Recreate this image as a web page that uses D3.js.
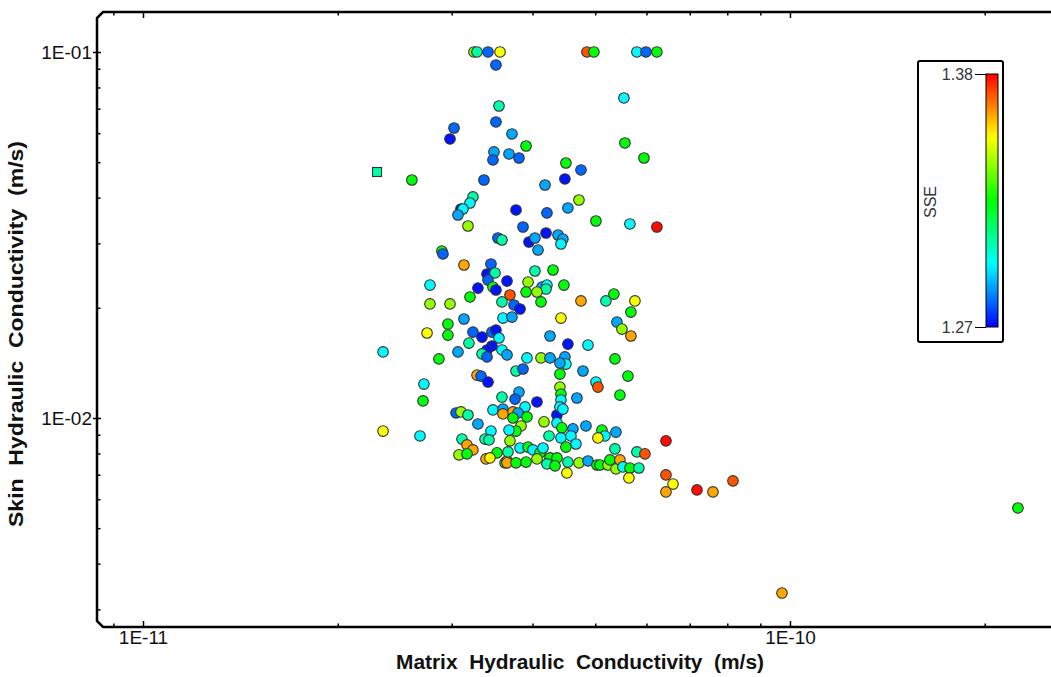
<!DOCTYPE html>
<html><head><meta charset="utf-8">
<script src="https://cdn.jsdelivr.net/npm/d3@7"></script>
<style>body{margin:0;background:#fff}svg{display:block}text{font-family:"Liberation Sans",Arial,sans-serif}</style>
</head><body><svg id="c" width="1051" height="677"></svg>
<script>
// Matrix hydraulic conductivity (m/s)
const matrixK = [
3.248e-11,3.283e-11,3.414e-11,3.563e-11,4.855e-11,4.977e-11,5.800e-11,5.990e-11,6.227e-11,3.512e-11,
3.550e-11,5.538e-11,3.512e-11,3.025e-11,2.982e-11,3.718e-11,3.909e-11,5.558e-11,5.947e-11,3.487e-11,
3.475e-11,3.679e-11,3.812e-11,4.505e-11,4.753e-11,4.489e-11,2.604e-11,3.365e-11,4.182e-11,4.719e-11,
3.236e-11,3.202e-11,3.101e-11,3.123e-11,3.068e-11,3.772e-11,4.211e-11,4.537e-11,3.179e-11,3.867e-11,
5.013e-11,5.657e-11,6.227e-11,4.197e-11,3.537e-11,3.588e-11,3.950e-11,4.035e-11,4.380e-11,4.457e-11,
4.426e-11,4.079e-11,2.897e-11,2.908e-11,3.134e-11,3.450e-11,3.402e-11,3.500e-11,3.414e-11,3.653e-11,
2.777e-11,3.294e-11,3.475e-11,3.512e-11,3.692e-11,2.777e-11,2.982e-11,3.202e-11,3.588e-11,4.035e-11,
4.303e-11,3.937e-11,4.137e-11,4.211e-11,4.197e-11,3.909e-11,4.064e-11,4.473e-11,4.123e-11,3.745e-11,
3.826e-11,4.753e-11,5.194e-11,5.344e-11,5.759e-11,5.677e-11,3.134e-11,3.601e-11,3.718e-11,4.426e-11,
5.402e-11,5.499e-11,5.677e-11,2.960e-11,2.960e-11,2.748e-11,3.236e-11,3.342e-11,3.462e-11,3.512e-11,
3.550e-11,4.257e-11,4.537e-11,4.873e-11,3.190e-11,3.462e-11,3.402e-11,3.068e-11,3.342e-11,3.402e-11,
3.588e-11,3.653e-11,2.350e-11,2.867e-11,3.922e-11,4.123e-11,4.257e-11,4.489e-11,4.505e-11,4.410e-11,
5.364e-11,3.772e-11,3.867e-11,4.410e-11,4.787e-11,5.618e-11,5.013e-11,5.049e-11,3.283e-11,3.330e-11,
3.414e-11,2.718e-11,2.709e-11,5.460e-11,4.685e-11,4.410e-11,4.426e-11,4.426e-11,3.812e-11,3.759e-11,
4.064e-11,3.588e-11,3.475e-11,3.601e-11,3.601e-11,3.732e-11,3.895e-11,3.799e-11,4.364e-11,4.410e-11,
4.457e-11,3.922e-11,3.732e-11,3.047e-11,3.101e-11,3.179e-11,3.294e-11,3.450e-11,2.350e-11,2.680e-11,
3.112e-11,3.378e-11,3.426e-11,3.168e-11,3.236e-11,3.079e-11,3.168e-11,3.525e-11,3.390e-11,3.438e-11,
3.627e-11,3.653e-11,3.840e-11,3.772e-11,3.679e-11,4.167e-11,4.364e-11,4.441e-11,4.619e-11,4.838e-11,
4.242e-11,5.121e-11,5.176e-11,5.049e-11,5.383e-11,4.426e-11,4.586e-11,4.669e-11,4.505e-11,6.432e-11,
3.692e-11,5.364e-11,5.800e-11,5.968e-11,3.826e-11,3.937e-11,4.006e-11,4.108e-11,4.152e-11,3.666e-11,
3.653e-11,3.772e-11,3.909e-11,4.064e-11,4.257e-11,4.364e-11,4.211e-11,4.334e-11,4.537e-11,4.719e-11,
4.873e-11,5.031e-11,5.085e-11,5.232e-11,5.269e-11,5.383e-11,5.460e-11,5.518e-11,5.657e-11,5.841e-11,
4.521e-11,5.637e-11,6.432e-11,6.595e-11,6.432e-11,7.182e-11,7.603e-11,8.164e-11,2.251e-10,9.72e-11
];
// Skin hydraulic conductivity (m/s)
const skinK = [
0.1,0.1,0.1,0.1,0.1,0.1,0.1,0.1,0.1,0.09215,
0.07119,0.07487,0.06438,0.06199,0.05785,0.05970,0.05535,0.05641,0.05133,0.05331,
0.05069,0.05264,0.05133,0.04974,0.04760,0.04498,0.04469,0.04469,0.04331,0.03941,
0.04017,0.03867,0.03724,0.03724,0.03586,0.03701,0.03632,0.03748,0.03346,0.03325,
0.03453,0.03389,0.03325,0.03202,0.03103,0.03064,0.03026,0.03103,0.03162,0.03083,
0.02988,0.02877,0.02859,0.02806,0.02618,0.02635,0.02474,0.02490,0.02382,0.02367,
0.02308,0.02265,0.02279,0.02237,0.02168,0.02049,0.02049,0.02141,0.02075,0.02521,
0.02537,0.02352,0.02279,0.02308,0.02251,0.02209,0.02209,0.02308,0.02075,0.02036,
0.01985,0.02088,0.02088,0.02181,0.02088,0.01947,0.01864,0.01875,0.01887,0.01875,
0.01829,0.01750,0.01675,0.01806,0.01685,0.01707,0.01717,0.01664,0.01717,0.01739,
0.01654,0.01675,0.01592,0.01582,0.01602,0.01573,0.01534,0.01515,0.01496,0.01468,
0.01534,0.01487,0.01515,0.01450,0.01459,0.01459,0.01459,0.01468,0.01404,0.01413,
0.01450,0.01344,0.01361,0.01318,0.01344,0.01302,0.01254,0.01215,0.01310,0.01302,
0.01254,0.01238,0.01113,0.01155,0.01134,0.01215,0.01162,0.01120,0.01177,0.01126,
0.01106,0.01141,0.01052,0.01058,0.01026,0.01039,0.01072,0.01032,0.01019,0.01072,
0.01058,0.01007,0.01000,0.01032,0.01039,0.01019,0.00963,0.00921,0.00921,0.00893,
0.00876,0.00876,0.00871,0.00844,0.00818,0.00793,0.00798,0.00803,0.00773,0.00778,
0.00754,0.00763,0.00951,0.00921,0.00927,0.00976,0.00970,0.00940,0.00934,0.00951,
0.00893,0.00927,0.00893,0.00882,0.00915,0.00882,0.00893,0.00849,0.00833,0.00866,
0.00866,0.00823,0.00808,0.00798,0.00828,0.00833,0.00818,0.00803,0.00828,0.00808,
0.00754,0.00754,0.00758,0.00773,0.00778,0.00778,0.00749,0.00740,0.00758,0.00754,
0.00763,0.00744,0.00744,0.00744,0.00768,0.00726,0.00768,0.00735,0.00730,0.00730,
0.00708,0.00686,0.00699,0.00660,0.00628,0.00636,0.00628,0.00673,0.005677,0.003325
];
// Sum of squared errors for each run
const sse = [
1.341,1.307,1.281,1.352,1.371,1.324,1.297,1.281,1.324,1.281,
1.307,1.297,1.281,1.281,1.272,1.288,1.324,1.324,1.324,1.288,
1.281,1.288,1.281,1.324,1.281,1.272,1.324,1.281,1.288,1.341,
1.307,1.297,1.272,1.297,1.288,1.272,1.281,1.288,1.341,1.281,
1.324,1.297,1.379,1.272,1.281,1.307,1.272,1.288,1.288,1.288,
1.297,1.288,1.324,1.281,1.362,1.281,1.272,1.307,1.281,1.272,
1.297,1.272,1.324,1.272,1.371,1.341,1.341,1.324,1.307,1.307,
1.324,1.341,1.288,1.297,1.307,1.324,1.341,1.324,1.324,1.281,
1.272,1.362,1.307,1.324,1.352,1.324,1.288,1.297,1.288,1.352,
1.288,1.341,1.362,1.324,1.324,1.352,1.281,1.272,1.281,1.272,
1.297,1.288,1.272,1.297,1.307,1.272,1.272,1.288,1.307,1.281,
1.297,1.288,1.297,1.324,1.297,1.341,1.288,1.288,1.297,1.288,
1.324,1.307,1.281,1.324,1.288,1.324,1.297,1.371,1.362,1.281,
1.272,1.297,1.324,1.324,1.288,1.341,1.324,1.297,1.288,1.281,
1.272,1.307,1.297,1.288,1.362,1.362,1.297,1.288,1.272,1.297,
1.297,1.324,1.324,1.281,1.341,1.307,1.288,1.297,1.352,1.297,
1.307,1.307,1.307,1.362,1.362,1.341,1.324,1.324,1.362,1.352,
1.324,1.362,1.341,1.324,1.297,1.341,1.297,1.324,1.288,1.288,
1.307,1.324,1.297,1.352,1.288,1.297,1.297,1.297,1.324,1.379,
1.341,1.307,1.307,1.371,1.297,1.324,1.297,1.324,1.297,1.307,
1.362,1.324,1.324,1.341,1.324,1.324,1.307,1.324,1.307,1.341,
1.288,1.324,1.324,1.341,1.324,1.341,1.362,1.297,1.324,1.307,
1.352,1.352,1.371,1.352,1.362,1.379,1.362,1.371,1.324,1.362
];
// single run drawn with a square marker
const squareMatrixK = [2.300e-11];
const squareSkinK = [0.04700];
const squareSSE = [1.307];

const xMajorTicks = [1e-11, 1e-10];
const xTickLabels = ["1E-11", "1E-10"];
const yMajorTicks = [0.01, 0.1];
const yTickLabels = ["1E-02", "1E-01"];
const sseRange = [1.27, 1.38];
const sseLabels = ["1.27", "1.38"];
const xTitle = "Matrix  Hydraulic  Conductivity  (m/s)";
const yTitle = "Skin  Hydraulic  Conductivity  (m/s)";
const legendTitle = "SSE";

const svg = d3.select("#c");
const L = 97, R = 1051, T = 12, B = 627;
const x = d3.scaleLog().domain([8.49e-12, 2.532e-10]).range([L, R]);
const y = d3.scaleLog().domain([0.002685, 0.1286]).range([B, T]);
const color = d3.scaleSequential(t => d3.hsl(240 * (1 - t), 1, 0.5).toString()).domain(sseRange).clamp(true);

function minors(scale) {
  const [a, b] = scale.domain(), out = [];
  for (let e = Math.floor(Math.log10(a)); e <= Math.ceil(Math.log10(b)); e++) {
    for (let k = 2; k <= 9; k++) { const v = k * Math.pow(10, e); if (v > a && v < b) out.push(v); }
  }
  return out;
}
const fmtX = d => xTickLabels[xMajorTicks.indexOf(d)];
const fmtY = d => yTickLabels[yMajorTicks.indexOf(d)];

function styleAxis(g) {
  g.select(".domain").remove();
  g.selectAll(".tick line").attr("stroke", "#000").attr("stroke-width", 1.5);
  g.selectAll(".tick text").attr("fill", "#111").style("font-size", "19px").style("font-family", '"Liberation Sans",Arial,sans-serif');
}
// bottom
svg.append("g").attr("transform", `translate(0,${B})`)
  .call(d3.axisBottom(x).tickValues(xMajorTicks).tickFormat(fmtX).tickSizeInner(-6).tickSizeOuter(0).tickPadding(3)).call(styleAxis);
svg.append("g").attr("transform", `translate(0,${B})`)
  .call(d3.axisBottom(x).tickValues(minors(x)).tickFormat("").tickSizeInner(-3.5).tickSizeOuter(0)).call(styleAxis);
// top
svg.append("g").attr("transform", `translate(0,${T})`)
  .call(d3.axisTop(x).tickValues(xMajorTicks).tickFormat("").tickSizeInner(-6).tickSizeOuter(0)).call(styleAxis);
svg.append("g").attr("transform", `translate(0,${T})`)
  .call(d3.axisTop(x).tickValues(minors(x)).tickFormat("").tickSizeInner(-3.5).tickSizeOuter(0)).call(styleAxis);
// left
svg.append("g").attr("transform", `translate(${L},0)`)
  .call(d3.axisLeft(y).tickValues(yMajorTicks).tickFormat(fmtY).tickSizeInner(4).tickSizeOuter(0).tickPadding(1)).call(styleAxis);
svg.append("g").attr("transform", `translate(${L},0)`)
  .call(d3.axisLeft(y).tickValues(yMajorTicks).tickFormat("").tickSizeInner(-4).tickSizeOuter(0)).call(styleAxis);
svg.append("g").attr("transform", `translate(${L},0)`)
  .call(d3.axisLeft(y).tickValues(minors(y)).tickFormat("").tickSizeInner(-3.5).tickSizeOuter(0)).call(styleAxis);

// frame
svg.append("path")
  .attr("d", `M${R},${T}H${L + 6}L${L},${T + 6}V${B - 6}L${L + 6},${B}H${R}`)
  .attr("fill", "none").attr("stroke", "#000").attr("stroke-width", 2.5);

// titles
svg.append("text").attr("x", 580).attr("y", 669).attr("text-anchor", "middle")
  .attr("textLength", 368).attr("lengthAdjust", "spacingAndGlyphs")
  .style("font-size", "20px").style("font-weight", "bold").style("white-space", "pre").attr("fill", "#111").text(xTitle);
svg.append("text").attr("transform", "translate(23,334) rotate(-90)").attr("text-anchor", "middle")
  .attr("textLength", 386).attr("lengthAdjust", "spacingAndGlyphs")
  .style("font-size", "20px").style("font-weight", "bold").style("white-space", "pre").attr("fill", "#111").text(yTitle);

// points
const pts = matrixK.map((d, i) => ({ mk: d, sk: skinK[i], e: sse[i] }));
svg.append("g").selectAll("circle").data(pts).join("circle")
  .attr("cx", d => x(d.mk)).attr("cy", d => y(d.sk)).attr("r", 5.3)
  .attr("fill", d => color(d.e)).attr("stroke", "#333").attr("stroke-width", 1.1);
const sq = squareMatrixK.map((d, i) => ({ mk: d, sk: squareSkinK[i], e: squareSSE[i] }));
svg.append("g").selectAll("rect").data(sq).join("rect")
  .attr("x", d => x(d.mk) - 4.5).attr("y", d => y(d.sk) - 4.5).attr("width", 9).attr("height", 9)
  .attr("fill", d => color(d.e)).attr("stroke", "#333").attr("stroke-width", 1.1);

// legend
const lg = svg.append("g");
lg.append("rect").attr("x", 918).attr("y", 61).attr("width", 85).attr("height", 281)
  .attr("rx", 2).attr("fill", "#fff").attr("stroke", "#000").attr("stroke-width", 2);
const grad = svg.append("defs").append("linearGradient").attr("id", "sseGrad")
  .attr("x1", 0).attr("y1", 1).attr("x2", 0).attr("y2", 0);
d3.range(0, 1.0001, 0.02).forEach(t => grad.append("stop").attr("offset", t)
  .attr("stop-color", color(sseRange[0] + t * (sseRange[1] - sseRange[0]))));
const cy = d3.scaleLinear().domain(sseRange).range([327, 74]);
lg.append("rect").attr("x", 986).attr("y", cy(sseRange[1])).attr("width", 12).attr("height", cy(sseRange[0]) - cy(sseRange[1]))
  .attr("fill", "url(#sseGrad)").attr("stroke", "#000").attr("stroke-width", 1);
lg.append("g").attr("transform", "translate(986,0)")
  .call(d3.axisLeft(cy).tickValues(sseRange).tickFormat((d, i) => sseLabels[i]).tickSizeInner(11).tickSizeOuter(0).tickPadding(2))
  .call(g => { g.select(".domain").remove();
    g.selectAll(".tick line").attr("stroke", "#000").attr("stroke-width", 1);
    g.selectAll(".tick text").attr("fill", "#333").style("font-size", "16px").style("font-family", '"Liberation Sans",Arial,sans-serif'); });
lg.append("text").attr("transform", "translate(936,202) rotate(-90)").attr("text-anchor", "middle")
  .style("font-size", "16px").attr("fill", "#333").text(legendTitle);
</script></body></html>
